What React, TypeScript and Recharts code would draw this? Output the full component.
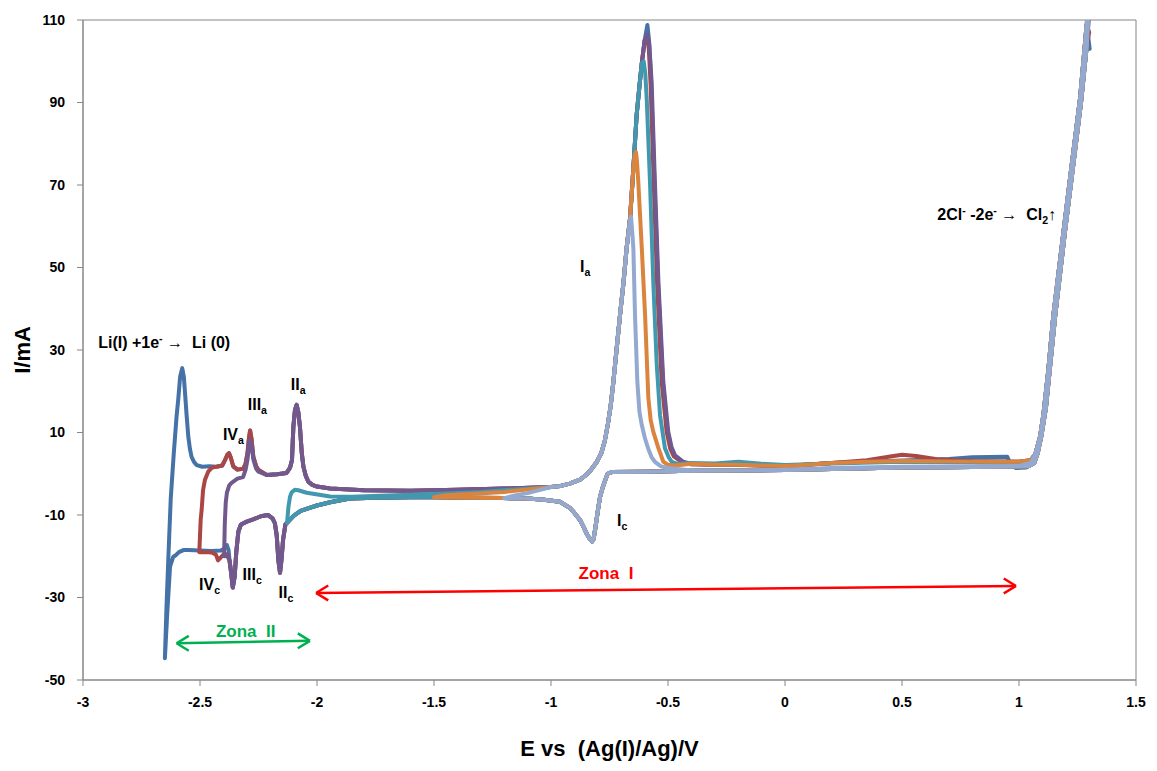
import React from "react";
import {
  LineChart,
  Line,
  XAxis,
  YAxis,
  ReferenceArea,
  ReferenceDot,
  ReferenceLine,
} from "recharts";

type P = [number, number];

const xTicks = [-3, -2.5, -2, -1.5, -1, -0.5, 0, 0.5, 1, 1.5];
const yTicks = [-50, -30, -10, 10, 30, 50, 70, 90, 110];

// ---- anodic sweep pieces (E increasing) ----
const blueStart: P[] = [
  [-2.65, -44.7], [-2.643, -32], [-2.635, -20], [-2.625, -6], [-2.612, 5], [-2.6, 14],
  [-2.593, 18], [-2.585, 23.5], [-2.576, 25.6], [-2.569, 23.5], [-2.564, 19.6], [-2.557, 14],
  [-2.55, 9], [-2.543, 6], [-2.536, 4.1], [-2.525, 2.8], [-2.514, 2.1], [-2.49, 1.7], [-2.46, 1.8],
];
const redStart: P[] = [
  [-2.503, -19], [-2.5, -15], [-2.497, -11], [-2.493, -8.8], [-2.487, -4], [-2.479, -1.5],
  [-2.465, 0.5], [-2.45, 1.4], [-2.44, 1.6],
];
const anodicIV: P[] = [
  [-2.43, 1.7], [-2.405, 2.0], [-2.393, 3.3], [-2.383, 4.6], [-2.376, 5.0], [-2.368, 3.8],
  [-2.358, 1.8], [-2.34, 1.0], [-2.315, 1.2], [-2.305, 2.5], [-2.297, 5], [-2.291, 8.5],
  [-2.286, 10.5], [-2.28, 8.5], [-2.272, 4.1], [-2.26, 1.8], [-2.25, 0.9],
];
const purpleStart: P[] = [
  [-2.397, -20], [-2.394, -12], [-2.39, -7], [-2.385, -4.6], [-2.375, -2.8], [-2.365, -2.2],
  [-2.34, -1.2], [-2.316, -0.8], [-2.305, 1.0], [-2.297, 3.5], [-2.291, 6.5], [-2.286, 8.2],
  [-2.28, 7], [-2.272, 3.5], [-2.26, 1.2], [-2.25, 0.5],
];
const anodicII: P[] = [
  [-2.215, -0.3], [-2.17, -0.1], [-2.13, 0.2], [-2.115, 1.5], [-2.107, 3.3], [-2.101, 11.4],
  [-2.094, 15.5], [-2.087, 16.7], [-2.08, 15], [-2.073, 11.4], [-2.065, 5], [-2.058, 1.7],
  [-2.048, -0.5], [-2.037, -1.9], [-2.02, -2.7], [-2.0, -3.1], [-1.944, -3.6], [-1.8, -4.0],
  [-1.6, -4.1], [-1.4, -3.9], [-1.2, -3.6],
];
const tealStart: P[] = [
  [-2.128, -11.9], [-2.122, -8], [-2.115, -5.5], [-2.108, -4.5], [-2.095, -3.9], [-2.08, -4.0],
  [-2.044, -4.6], [-1.944, -5.5], [-1.85, -5.6], [-1.7, -5.3], [-1.5, -4.9], [-1.3, -4.4],
];
const orangeStart: P[] = [[-1.5, -5.7], [-1.45, -5.2], [-1.35, -4.9], [-1.2, -4.4]];
const lightStart: P[] = [[-1.2, -6.0], [-1.16, -5.3], [-1.1, -4.7]];

const riseIa: P[] = [
  [-1.0, -3.2], [-0.962, -3.0], [-0.92, -2.4], [-0.876, -1.4], [-0.85, -0.3], [-0.83, 0.9],
  [-0.805, 2.8], [-0.785, 5], [-0.77, 8], [-0.757, 12], [-0.745, 16.5], [-0.734, 22], [-0.72, 30],
  [-0.705, 38.5], [-0.69, 46.5], [-0.677, 54.6], [-0.662, 62], [-0.648, 74], [-0.634, 87],
  [-0.622, 94], [-0.612, 99.5], [-0.6, 105], [-0.592, 108.5],
];

const bluePeak: P[] = [
  [-0.588, 108.8], [-0.581, 105], [-0.572, 95], [-0.558, 70.8], [-0.543, 46.6], [-0.522, 22.3],
  [-0.502, 10.2], [-0.487, 6.2], [-0.472, 4.3], [-0.44, 2.8],
];
const redPeak: P[] = [
  [-0.59, 106], [-0.582, 103], [-0.574, 94], [-0.561, 70.8], [-0.547, 46.6], [-0.527, 22.3],
  [-0.506, 10.2], [-0.49, 6], [-0.475, 4.2], [-0.44, 2.8],
];
const purplePeak: P[] = [
  [-0.588, 106.4], [-0.58, 104], [-0.57, 95], [-0.556, 70.8], [-0.541, 46.6], [-0.52, 22.3],
  [-0.499, 10.2], [-0.485, 6.5], [-0.47, 4.5], [-0.435, 2.9],
];
const tealPeak: P[] = [
  [-0.604, 100], [-0.597, 97], [-0.591, 91], [-0.577, 70.8], [-0.563, 46.6], [-0.548, 26.4],
  [-0.534, 14.2], [-0.513, 6.2], [-0.497, 4], [-0.484, 2.9], [-0.46, 2.4],
];
const orangePeak: P[] = [
  [-0.641, 77.5], [-0.637, 78], [-0.633, 76], [-0.627, 70.8], [-0.612, 54.7], [-0.598, 38.5],
  [-0.584, 18.4], [-0.574, 13], [-0.563, 10.2], [-0.541, 6.2], [-0.52, 2.9], [-0.5, 2.2], [-0.47, 2],
];
const lightPeak: P[] = [
  [-0.662, 61.5], [-0.658, 62.3], [-0.652, 58], [-0.648, 54.7], [-0.641, 38.5], [-0.631, 22.3],
  [-0.622, 15], [-0.612, 11.8], [-0.598, 8.5], [-0.584, 6], [-0.57, 4], [-0.556, 2.9],
  [-0.53, 1.8], [-0.5, 1.4],
];

const anodicRight: P[] = [
  [-0.4, 2.4], [-0.3, 2.2], [-0.2, 2.2], [-0.1, 2.0], [0, 1.9], [0.1, 2.2], [0.2, 2.6],
  [0.35, 2.9], [0.5, 3.1], [0.7, 3.0], [0.9, 2.9], [1.0, 2.9], [1.05, 3.3],
];
const anodicRightRed: P[] = [
  [-0.4, 2.3], [-0.2, 2.1], [0, 1.9], [0.2, 2.6], [0.35, 3.3], [0.45, 4.2], [0.5, 4.6],
  [0.56, 4.3], [0.65, 3.5], [0.8, 3.1], [1.0, 2.9], [1.05, 3.3],
];
const anodicRightBlue: P[] = [
  [-0.4, 2.3], [-0.2, 2.2], [0, 1.9], [0.2, 2.6], [0.5, 3.2], [0.7, 3.6], [0.8, 4.0],
  [0.95, 4.1], [0.965, 2.2], [0.985, 1.4], [1.03, 1.5], [1.06, 2.8],
];
const anodicRightTeal: P[] = [
  [-0.4, 2.6], [-0.3, 2.5], [-0.2, 2.9], [-0.1, 2.4], [0, 2.1], [0.2, 2.5], [0.5, 2.9],
  [0.8, 2.8], [1.0, 2.8], [1.05, 3.3],
];
const anodicRightLight: P[] = [
  [-0.4, 0.8], [-0.2, 0.8], [0, 1.0], [0.2, 1.4], [0.5, 1.7], [0.8, 1.8], [1.0, 1.9], [1.05, 2.6],
];

const riseCl2: P[] = [
  [1.07, 4.8], [1.09, 9], [1.104, 14.2], [1.125, 25], [1.147, 38.5], [1.19, 58.6],
  [1.225, 74.8], [1.261, 91], [1.289, 108.8],
];

// ---- cathodic sweep pieces (E decreasing) ----
const fallCl2: P[] = [
  [1.29, 104], [1.265, 90], [1.23, 74], [1.195, 58], [1.155, 38.5], [1.115, 16], [1.095, 9],
  [1.08, 5], [1.065, 2.6], [1.04, 1.8],
];
const cathodicRight: P[] = [
  [0.9, 1.7], [0.7, 1.6], [0.5, 1.5], [0.3, 1.3], [0.1, 1.0], [0, 0.9], [-0.2, 0.8],
  [-0.4, 0.7], [-0.6, 0.5], [-0.74, 0.4],
];
const dipIc: P[] = [
  [-0.758, 0], [-0.768, -1.5], [-0.78, -3.5], [-0.79, -5.5], [-0.8, -9], [-0.81, -13],
  [-0.818, -15.8], [-0.824, -16.4], [-0.832, -16], [-0.845, -14.8], [-0.86, -13], [-0.876, -11.2],
  [-0.9, -9.5], [-0.919, -8.3], [-0.962, -6.8], [-1.03, -6.3], [-1.1, -6.0], [-1.2, -5.9],
  [-1.35, -5.8], [-1.5, -5.7],
];
const cathodicLow: P[] = [
  [-1.6, -5.7], [-1.75, -5.8], [-1.86, -6.0], [-1.944, -6.9], [-2.0, -7.7], [-2.07, -9.0],
  [-2.1, -10.2], [-2.128, -11.9],
];
const cathodicII: P[] = [
  [-2.135, -12.3], [-2.145, -16], [-2.152, -21], [-2.158, -24], [-2.165, -21], [-2.172, -15],
  [-2.18, -12], [-2.19, -10.8], [-2.21, -10], [-2.24, -10.3], [-2.27, -11], [-2.3, -11.6],
  [-2.325, -12.3], [-2.336, -14], [-2.345, -19], [-2.352, -25], [-2.36, -27.6], [-2.367, -24],
  [-2.374, -20.9],
];
const blueTail: P[] = [
  [-2.378, -18.5], [-2.385, -17.3], [-2.392, -18], [-2.41, -18.6], [-2.45, -18.7], [-2.5, -18.6],
  [-2.55, -18.5], [-2.571, -18.5], [-2.59, -19], [-2.605, -19.8], [-2.614, -20.1],
  [-2.628, -22.5], [-2.64, -33.8], [-2.65, -44.7],
];
const redTail: P[] = [
  [-2.385, -19.5], [-2.4, -19.6], [-2.41, -20.2], [-2.423, -21], [-2.432, -19.6], [-2.45, -19.1],
  [-2.48, -19], [-2.503, -19],
];
const purpleTail: P[] = [[-2.385, -19.8], [-2.397, -20]];

const before = (pts: P[], lim: number) => pts.filter(([x]) => x < lim);
const from = (pts: P[], lim: number) => pts.filter(([x]) => x >= lim);

const returnSweep: P[] = [...fallCl2, ...cathodicRight, ...dipIc];

const blueCV: P[] = [
  ...blueStart, ...anodicIV, ...anodicII, ...before(riseIa, -0.595), ...bluePeak, ...anodicRightBlue,
  ...riseCl2, [1.302, 103], ...returnSweep, ...cathodicLow, ...cathodicII, ...blueTail,
];
const redCV: P[] = [
  ...redStart, ...anodicIV, ...anodicII, ...before(riseIa, -0.595), ...redPeak, ...anodicRightRed,
  ...riseCl2, [1.3, 107], ...returnSweep, ...cathodicLow, ...cathodicII, ...redTail,
];
const purpleCV: P[] = [
  ...purpleStart, ...anodicII, ...before(riseIa, -0.595), ...purplePeak, ...anodicRight,
  ...riseCl2, [1.298, 110], ...returnSweep, ...cathodicLow, ...cathodicII, ...purpleTail,
];
const tealCV: P[] = [
  ...tealStart, ...before(riseIa, -0.605), ...tealPeak, ...anodicRightTeal,
  ...riseCl2, [1.296, 113], ...returnSweep, ...cathodicLow,
];
const orangeCV: P[] = [
  ...orangeStart, ...before(riseIa, -0.645), ...orangePeak, ...anodicRight,
  ...riseCl2, [1.296, 116], ...returnSweep,
];
const lightCV: P[] = [
  ...lightStart, ...before(riseIa, -0.665), ...lightPeak, ...anodicRightLight,
  ...riseCl2, [1.3, 116], ...fallCl2, ...cathodicRight, ...from(dipIc, -1.2),
];

const series = [
  { name: "blue", color: "#4572A7", pts: blueCV },
  { name: "red", color: "#AA4643", pts: redCV },
  { name: "purple", color: "#71588F", pts: purpleCV },
  { name: "teal", color: "#4198AF", pts: tealCV },
  { name: "orange", color: "#DB843D", pts: orangeCV },
  { name: "light", color: "#93A9CF", pts: lightCV },
];

type Part = [string, "n" | "sub" | "sup" | "thin"];
type Note = { x: number; y: number; parts: Part[]; color?: string; size?: number; anchor?: "start" | "middle" };

const notes: Note[] = [
  { x: -2.935, y: 30.5, parts: [["Li(I) +1e", "n"], ["-", "sup"], ["\u00a0", "n"], ["\u2192", "thin"], ["\u00a0\u00a0Li (0)", "n"]] },
  { x: -2.402, y: 8.2, parts: [["IV", "n"], ["a", "sub"]] },
  { x: -2.296, y: 15.5, parts: [["III", "n"], ["a", "sub"]] },
  { x: -2.112, y: 20.3, parts: [["II", "n"], ["a", "sub"]] },
  { x: -2.504, y: -28.2, parts: [["IV", "n"], ["c", "sub"]] },
  { x: -2.318, y: -25.8, parts: [["III", "n"], ["c", "sub"]] },
  { x: -2.164, y: -30.1, parts: [["II", "n"], ["c", "sub"]] },
  { x: -0.876, y: 48.9, parts: [["I", "n"], ["a", "sub"]] },
  { x: -0.718, y: -12.7, parts: [["I", "n"], ["c", "sub"]] },
  { x: 0.651, y: 61.5, parts: [["2Cl", "n"], ["-", "sup"], ["\u00a0-2e", "n"], ["-", "sup"], ["\u00a0", "n"], ["\u2192", "thin"], ["\u00a0\u00a0Cl", "n"], ["2", "sub"], ["\u2191", "thin"]] },
  { x: -0.765, y: -25.5, parts: [["Zona\u00a0\u00a0I", "n"]], color: "#ff0000", size: 17, anchor: "middle" },
  { x: -2.305, y: -39.6, parts: [["Zona\u00a0\u00a0II", "n"]], color: "#00b050", size: 17, anchor: "middle" },
];

const zoneArrows = [
  { x1: -2.004, y1: -28.9, x2: 0.987, y2: -27.2, color: "#ff0000" },
  { x1: -2.6, y1: -41.1, x2: -2.03, y2: -40.5, color: "#00b050" },
];

const FONT = "'Liberation Sans', Arial, Helvetica, sans-serif";

function noteShape(n: Note) {
  const size = n.size ?? 16;
  return (props: any) => {
    let shift = 0;
    return (
      <text
        x={props.cx}
        y={props.cy}
        textAnchor={n.anchor ?? "start"}
        fill={n.color ?? "#000"}
        fontFamily={FONT}
        fontWeight={700}
        fontSize={size}
      >
        {n.parts.map(([t, kind], i) => {
          const target = kind === "sub" ? 4 : kind === "sup" ? -6 : 0;
          const dy = target - shift;
          shift = target;
          return (
            <tspan
              key={i}
              dy={dy}
              fontSize={kind === "sub" || kind === "sup" ? size * 0.66 : size}
              fontWeight={kind === "thin" ? 400 : 700}
            >
              {t}
            </tspan>
          );
        })}
      </text>
    );
  };
}

const tickStyle = { fill: "#000", fontSize: 14, fontWeight: 700, fontFamily: FONT };

export default function App() {
  return (
    <div style={{ width: 1141, height: 763 }}>
      <LineChart width={1141} height={763} margin={{ top: 12, right: 13, left: 0, bottom: 0 }}>
        <XAxis
          type="number"
          dataKey="x"
          domain={[-3, 1.5]}
          ticks={xTicks}
          interval={0}
          allowDataOverflow
          height={91}
          stroke="#868686"
          tick={tickStyle}
          tickSize={6}
          tickMargin={11}
          label={{
            content: (p: any) => {
              const vb = p.viewBox;
              return (
                <text
                  x={vb.x + vb.width / 2}
                  y={vb.y + 76}
                  textAnchor="middle"
                  fontFamily={FONT}
                  fontWeight={700}
                  fontSize={22}
                  fill="#000"
                >
                  {"E vs\u00a0 (Ag(I)/Ag)/V"}
                </text>
              );
            },
          }}
        />
        <YAxis
          type="number"
          dataKey="y"
          domain={[-50, 110]}
          ticks={yTicks}
          interval={0}
          allowDataOverflow
          width={75}
          stroke="#868686"
          tick={tickStyle}
          tickSize={6}
          tickMargin={12}
          label={{
            content: (p: any) => {
              const vb = p.viewBox;
              const cx = vb.x + 14;
              const cy = vb.y + vb.height / 2;
              return (
                <text
                  x={cx}
                  y={cy}
                  transform={`rotate(-90 ${cx} ${cy})`}
                  textAnchor="middle"
                  dominantBaseline="central"
                  fontFamily={FONT}
                  fontWeight={700}
                  fontSize={22}
                  fill="#000"
                >
                  I/mA
                </text>
              );
            },
          }}
        />
        <ReferenceArea x1={-3} x2={1.5} y1={-50} y2={110} fill="none" stroke="#868686" strokeWidth={1} />
        {series.map((s) => (
          <Line
            key={s.name}
            data={s.pts.map(([x, y]) => ({ x, y }))}
            dataKey="y"
            type="linear"
            stroke={s.color}
            strokeWidth={4}
            strokeLinejoin="round"
            strokeLinecap="round"
            dot={false}
            activeDot={false}
            isAnimationActive={false}
          />
        ))}
        {zoneArrows.map((a, i) => {
          const dx = 0.052;
          const dy = 1.8;
          return [
            <ReferenceLine key={`a${i}`} segment={[{ x: a.x1, y: a.y1 }, { x: a.x2, y: a.y2 }]} stroke={a.color} strokeWidth={2.5} />,
            <ReferenceLine key={`l1${i}`} segment={[{ x: a.x1, y: a.y1 }, { x: a.x1 + dx, y: a.y1 + dy }]} stroke={a.color} strokeWidth={2.5} />,
            <ReferenceLine key={`l2${i}`} segment={[{ x: a.x1, y: a.y1 }, { x: a.x1 + dx, y: a.y1 - dy }]} stroke={a.color} strokeWidth={2.5} />,
            <ReferenceLine key={`r1${i}`} segment={[{ x: a.x2, y: a.y2 }, { x: a.x2 - dx, y: a.y2 + dy }]} stroke={a.color} strokeWidth={2.5} />,
            <ReferenceLine key={`r2${i}`} segment={[{ x: a.x2, y: a.y2 }, { x: a.x2 - dx, y: a.y2 - dy }]} stroke={a.color} strokeWidth={2.5} />,
          ];
        })}
        {notes.map((n, i) => (
          <ReferenceDot key={`n${i}`} x={n.x} y={n.y} r={0} shape={noteShape(n)} />
        ))}
      </LineChart>
    </div>
  );
}
